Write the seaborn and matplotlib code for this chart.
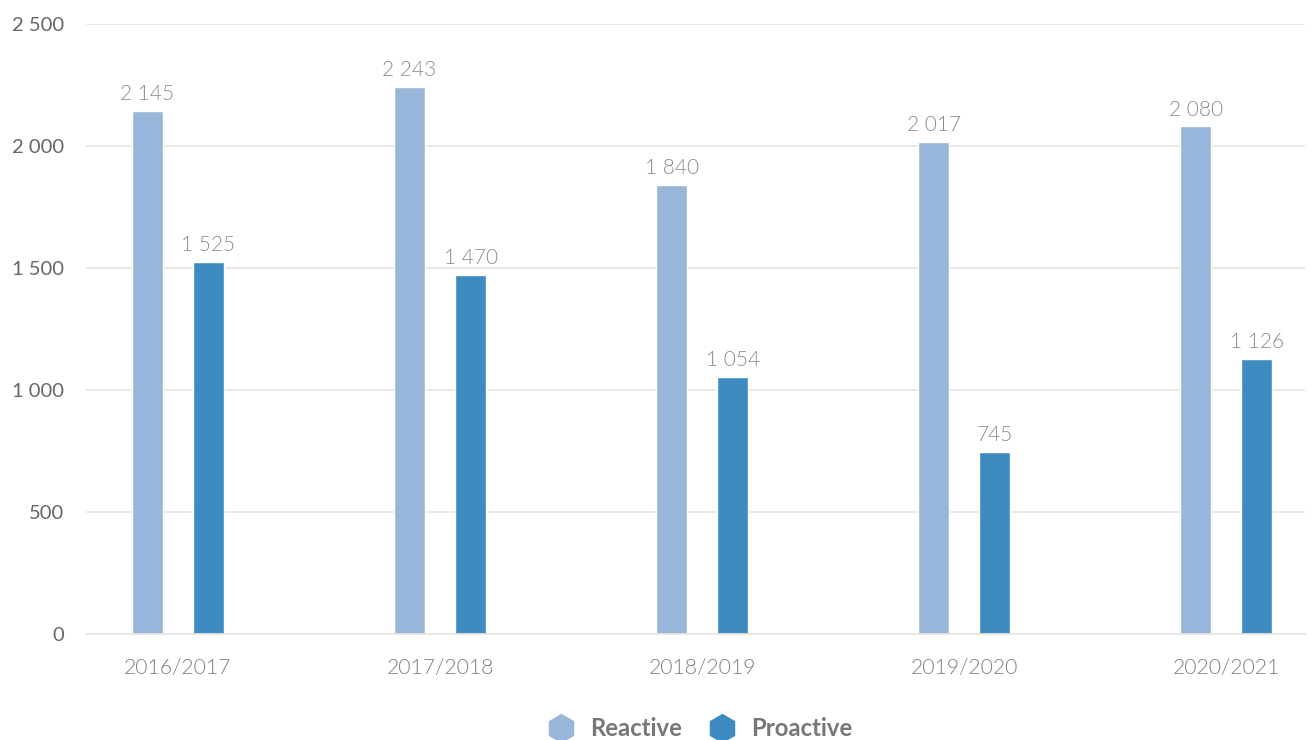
import matplotlib
matplotlib.use("Agg")
import matplotlib.pyplot as plt
from matplotlib.lines import Line2D
import seaborn as sns
import pandas as pd

seasons = ["2016/2017", "2017/2018", "2018/2019", "2019/2020", "2020/2021"]
reactive = [2145, 2243, 1840, 2017, 2080]
proactive = [1525, 1470, 1054, 745, 1126]
series_names = ["Reactive", "Proactive"]
colors = ["#97b6d9", "#3d8bc0"]
y_ticks = [0, 500, 1000, 1500, 2000, 2500]

df = pd.DataFrame({
    "season": seasons * 2,
    "value": reactive + proactive,
    "type": [series_names[0]] * len(seasons) + [series_names[1]] * len(seasons),
})

sns.set_style("white")
plt.rcParams["font.family"] = ["Lato", "DejaVu Sans"]

def fmt(v):
    return f"{int(v):,}".replace(",", " ")

fig = plt.figure(figsize=(13.11, 7.40), dpi=100)
ax = fig.add_axes([86 / 1311, 106 / 740, 1219 / 1311, 610 / 740])

sns.barplot(data=df, x="season", y="value", hue="type", hue_order=series_names,
            palette=colors, width=0.466, gap=0.49, saturation=1,
            legend=False, ax=ax, errorbar=None)

for cont in ax.containers:
    ax.bar_label(cont, labels=[fmt(b.get_height()) for b in cont], padding=5,
                 fontsize=15, color="#8c8c8c", fontweight=300)

ax.set_xlim(-0.351, 4.30)
ax.set_ylim(0, 2500)
ax.set_yticks(y_ticks)
ax.set_yticklabels([fmt(t) for t in y_ticks])
ax.yaxis.grid(True, color="#e9e5e0", linewidth=1.2)
ax.set_axisbelow(True)
for s in ["top", "right", "left"]:
    ax.spines[s].set_visible(False)
ax.spines["bottom"].set_color("#e9e5e0")
ax.spines["bottom"].set_linewidth(1.2)
ax.tick_params(axis="y", length=0, pad=16, labelsize=14.5, labelcolor="#666666")
ax.tick_params(axis="x", length=0, pad=17, labelsize=15.3, labelcolor="#808080")
for lbl in ax.get_xticklabels():
    lbl.set_fontweight(300)
ax.set_xlabel("")
ax.set_ylabel("")

handles = [Line2D([], [], marker="h", linestyle="", markersize=20,
                  markerfacecolor=c, markeredgecolor=c) for c in colors]
leg = fig.legend(handles, series_names, loc="center", bbox_to_anchor=(0.530, 0.015),
                 ncol=2, frameon=False, handletextpad=0.2, columnspacing=0.7,
                 prop={"size": 17.2, "weight": "bold"})
for t in leg.get_texts():
    t.set_color("#777777")

fig.savefig("out.png", dpi=100)
